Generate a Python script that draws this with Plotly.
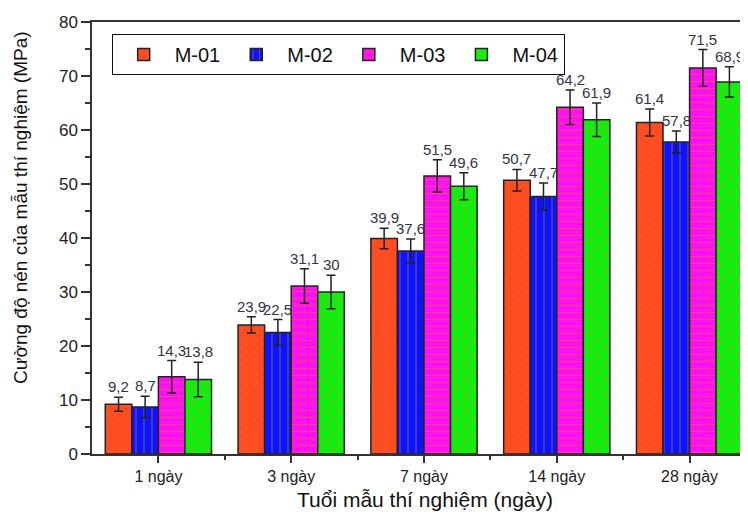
import plotly.graph_objects as go

categories = ["1 ngày", "3 ngày", "7 ngày", "14 ngày", "28 ngày"]
series_names = ["M-01", "M-02", "M-03", "M-04"]
m01 = [9.2, 23.9, 39.9, 50.7, 61.4]
m02 = [8.7, 22.5, 37.6, 47.7, 57.8]
m03 = [14.3, 31.1, 51.5, 64.2, 71.5]
m04 = [13.8, 30.0, 49.6, 61.9, 68.9]
err01 = [1.3, 1.5, 1.9, 2.0, 2.5]
err02 = [2.0, 2.4, 2.2, 2.5, 2.0]
err03 = [3.0, 3.2, 3.0, 3.2, 3.4]
err04 = [3.2, 3.1, 2.5, 3.1, 2.8]
x_title = "Tuổi mẫu thí nghiệm (ngày)"
y_title = "Cường độ nén của mẫu thí nghiệm (MPa)"

values = [m01, m02, m03, m04]
errors = [err01, err02, err03, err04]
colors = ["#FF4A22", "#0A14FF", "#FF10F0", "#10F010"]
shapes = ["/", "|", "-", "x"]
psizes = [6, 8, 7, 11]
fg = "#E8801A"

x = list(range(len(categories)))
fig = go.Figure()
for name, vals, errs, col, shp, ps in zip(series_names, values, errors, colors, shapes, psizes):
    fig.add_trace(go.Bar(
        x=x, y=vals, name=name,
        marker=dict(color=col, line=dict(color="#222222", width=1.5),
                    pattern=dict(shape=shp, fgcolor=fg, size=ps, solidity=0.15)),
        error_y=dict(type="data", array=errs, color="#222222", thickness=1.5, width=4.5),
    ))

annotations = []
n = len(series_names)
for j, (vals, errs) in enumerate(zip(values, errors)):
    for i, (v, e) in enumerate(zip(vals, errs)):
        lab = ("%g" % v).replace(".", ",")
        annotations.append(dict(
            x=i + (j - (n - 1) / 2) * 0.2, y=v + e, xref="x", yref="y",
            text=lab, showarrow=False, yanchor="bottom", yshift=0,
            font=dict(size=15, color="#33334a", family="Liberation Sans, Arial"),
        ))

# axis titles as annotations (placed like the reference)
annotations.append(dict(
    x=(425 - 92) / 656, y=-0.106, xref="paper", yref="paper",
    text=x_title, showarrow=False, xanchor="center", yanchor="middle",
    font=dict(size=21, color="#111111", family="Liberation Sans, Arial"),
))
annotations.append(dict(
    x=-72 / 656, y=(454 - 208) / 432, xref="paper", yref="paper",
    text=y_title, showarrow=False, textangle=-90, xanchor="center", yanchor="middle",
    font=dict(size=19, color="#111111", family="Liberation Sans, Arial"),
))

# the page body adds an 8px offset; the figure is sized to fill the rest of the window
fig.update_layout(
    width=740, height=515,
    margin=dict(l=84, r=0, t=14, b=69),
    paper_bgcolor="white", plot_bgcolor="white",
    barmode="group", bargap=0.2, bargroupgap=0,
    font=dict(family="Liberation Sans, Arial", color="#222222"),
    annotations=annotations,
    legend=dict(orientation="h", x=0.03, y=0.972, xanchor="left", yanchor="top",
                bordercolor="#111111", borderwidth=1, bgcolor="white",
                font=dict(size=20, color="#111111"), itemwidth=52, tracegroupgap=0),
    showlegend=True,
)
fig.update_xaxes(
    automargin=False,
    range=[-0.5, 4.44], tickmode="array", tickvals=x, ticktext=categories,
    showline=True, linecolor="#333333", linewidth=1.5, mirror=True,
    ticks="outside", ticklen=7, tickwidth=1.5, tickcolor="#333333",
    minor=dict(tickmode="array", tickvals=[0.5, 1.5, 2.5, 3.5], ticks="outside", ticklen=4, tickwidth=1.5, tickcolor="#333333"),
    showgrid=False, zeroline=False,
    tickfont=dict(size=16, color="#222222"),
)
fig.update_yaxes(
    automargin=False,
    range=[0, 80], dtick=10, tick0=0,
    showline=True, linecolor="#333333", linewidth=1.5,
    ticks="outside", ticklen=9, tickwidth=1.5, tickcolor="#333333",
    minor=dict(dtick=5, ticks="outside", ticklen=5, tickwidth=1.5, tickcolor="#333333"),
    showgrid=False, zeroline=False,
    tickfont=dict(size=17, color="#222222"),
)

fig.write_html("out.html")
